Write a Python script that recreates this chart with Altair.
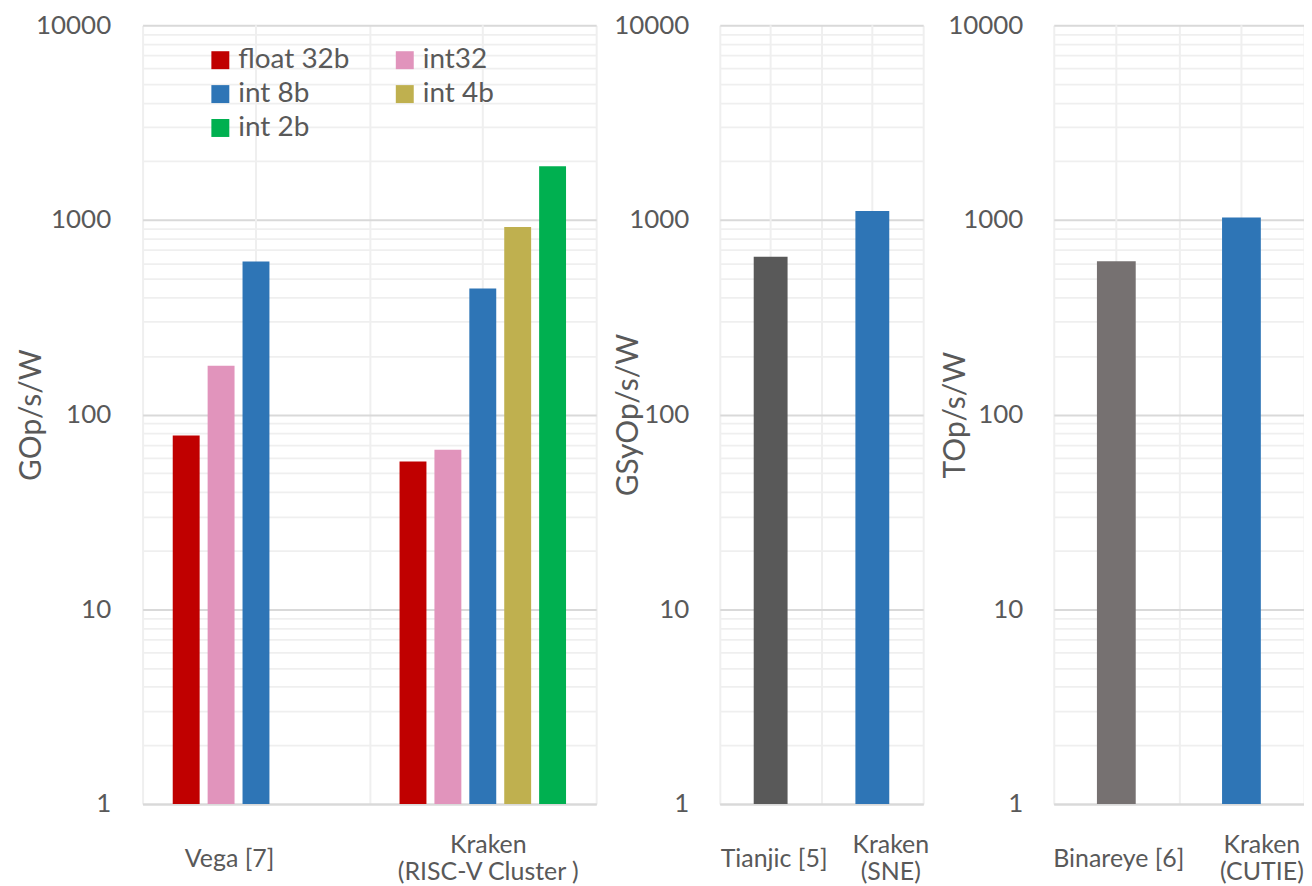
import altair as alt
import pandas as pd

FONT = "Lato"
TXT = "#595959"
H = 781

# ---------------- data ----------------
groups1 = ["Vega [7]", "Kraken\n(RISC-V Cluster )"]
series = ["float 32b", "int32", "int 8b", "int 4b", "int 2b"]
series_colors = ["#C00000", "#E194BC", "#2E75B6", "#BFB04F", "#00B050"]
vega_series = ["float 32b", "int32", "int 8b"]
vega_vals = [78, 178, 611]
kraken_vals = [57.5, 66, 444, 921, 1888]

groups2 = ["Tianjic [5]", "Kraken\n(SNE)"]
vals2 = [647, 1112]
colors2 = ["#595959", "#2E75B6"]

groups3 = ["Binareye [6]", "Kraken\n(CUTIE)"]
vals3 = [614, 1030]
colors3 = ["#767171", "#2E75B6"]

y_ticks = [1, 2, 3, 4, 5, 6, 7, 8, 9,
           10, 20, 30, 40, 50, 60, 70, 80, 90,
           100, 200, 300, 400, 500, 600, 700, 800, 900,
           1000, 2000, 3000, 4000, 5000, 6000, 7000, 8000, 9000,
           10000]
y_major = [1, 10, 100, 1000, 10000]

rows1 = [{"group": groups1[0], "series": s, "value": v} for s, v in zip(vega_series, vega_vals)]
rows1 += [{"group": groups1[1], "series": s, "value": v} for s, v in zip(series, kraken_vals)]
df1 = pd.DataFrame(rows1)
df2 = pd.DataFrame({"group": groups2, "value": vals2})
df3 = pd.DataFrame({"group": groups3, "value": vals3})

major_test = "indexof(" + str(y_major) + ", datum.value) >= 0"


def y_enc(title, title_x, label_pad):
    return alt.Y(
        "value:Q",
        scale=alt.Scale(type="log", domain=[1, 10000], nice=False),
        axis=alt.Axis(
            values=y_ticks,
            labelExpr=major_test + " ? format(datum.value, 'd') : ''",
            labelOverlap=False,
            labelFont=FONT, labelFontSize=26, labelColor=TXT,
            labelPadding=label_pad,
            ticks=False, domain=False,
            grid=True,
            gridColor={"condition": {"test": major_test, "value": "#D9D9D9"}, "value": "#EFEFEF"},
            gridWidth={"condition": {"test": major_test, "value": 2}, "value": 1.75},
            title=title, titleFont=FONT, titleFontSize=30, titleFontWeight="normal",
            titleColor=TXT, titleAngle=270, titleX=title_x, titleY=H / 2,
            titleAlign="center", titleBaseline="middle",
        ),
    )


def x_enc(groups, offsets):
    cond = {"condition": {"test": "datum.value == '" + groups[0] + "'", "value": offsets[0]},
            "value": offsets[1]}
    base = {"condition": {"test": "datum.value != '" + groups[0] + "'", "value": "line-bottom"},
            "value": "middle"}
    return alt.X(
        "group:N", sort=groups,
        scale=alt.Scale(domain=groups, paddingInner=0, paddingOuter=0),
        axis=alt.Axis(
            title=None, labelAngle=0,
            labelExpr="split(datum.label, '\\n')",
            labelFont=FONT, labelFontSize=25, labelColor=TXT,
            labelBaseline=base, labelPadding=55, labelLineHeight=27,
            labelOffset=cond, labelLimit=0,
            ticks=False, domain=True, domainColor="#D9D9D9", domainWidth=2,
            grid=True, tickBand="extent", gridColor="#EFEFEF", gridWidth=2,
        ),
    )


def centre_rules(groups, xe):
    return alt.Chart(pd.DataFrame({"group": groups})).mark_rule(
        color="#EFEFEF", strokeWidth=2).encode(x=xe)


# ---------------- panel 1 ----------------
x1 = x_enc(groups1, [-27, 5])
bars1 = alt.Chart(df1).mark_bar().encode(
    x=x1,
    xOffset=alt.XOffset("series:N", scale=alt.Scale(domain=series, paddingInner=0.229, paddingOuter=0.864)),
    y=y_enc("GOp/s/W", -111, 32),
    y2=alt.datum(1),
    color=alt.Color(
        "series:N",
        scale=alt.Scale(domain=series, range=series_colors),
        legend=alt.Legend(
            title=None, orient="none", legendX=64, legendY=21, columns=2, direction="horizontal",
            symbolType="square", symbolSize=324, symbolStrokeWidth=0,
            labelFont=FONT, labelFontSize=28, labelColor=TXT, labelOffset=4,
            rowPadding=6, columnPadding=41, padding=0,
        ),
    ),
)
p1 = alt.layer(centre_rules(groups1, x1), bars1).properties(width=455, height=H)

# ---------------- panel 2 ----------------
x2 = x_enc(groups2, [3, 18])
bars2 = alt.Chart(df2).mark_bar(width=alt.RelativeBandSize(0.333)).encode(
    x=x2,
    y=y_enc("GSyOp/s/W", -92, 31),
    y2=alt.datum(1),
    color=alt.Color("group:N", scale=alt.Scale(domain=groups2, range=colors2), legend=None),
)
p2 = alt.layer(centre_rules(groups2, x2), bars2).properties(width=204, height=H)

# ---------------- panel 3 ----------------
x3 = x_enc(groups3, [2, 20])
bars3 = alt.Chart(df3).mark_bar(width=alt.RelativeBandSize(0.31)).encode(
    x=x3,
    y=y_enc("TOp/s/W", -99, 31),
    y2=alt.datum(1),
    color=alt.Color("group:N", scale=alt.Scale(domain=groups3, range=colors3), legend=None),
)
p3 = alt.layer(centre_rules(groups3, x3), bars3).properties(width=251, height=H)

right = alt.hconcat(p2, p3, spacing=11).resolve_scale(color="independent")
chart = alt.hconcat(p1, right, spacing=17).resolve_scale(color="independent").properties(
    padding={"left": 9, "top": 3, "right": 0, "bottom": 0},
    background="white",
).configure_view(stroke=None)

chart.save("out.html", embed_options={"renderer": "svg", "actions": False})
